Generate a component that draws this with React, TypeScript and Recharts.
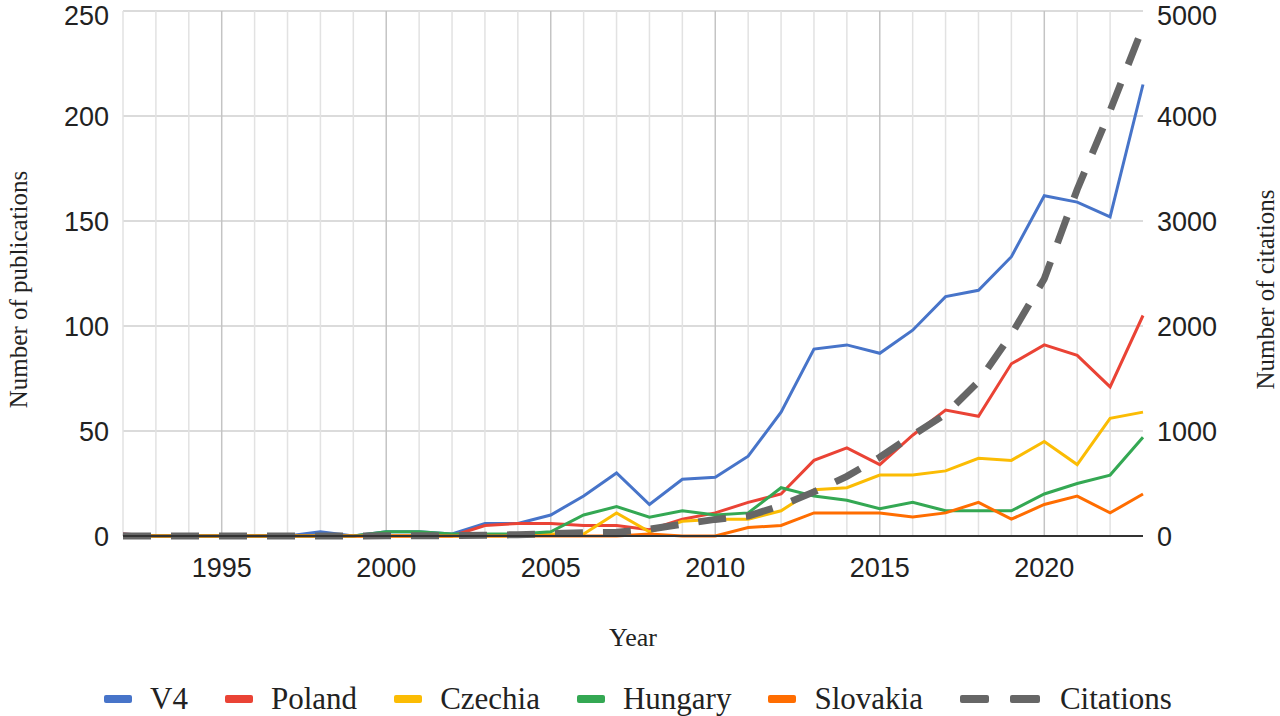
// Publications and citations per year, V4 countries
import { LineChart, Line, XAxis, YAxis, CartesianGrid, ReferenceLine } from 'recharts';

const years = [
  1992, 1993, 1994, 1995, 1996, 1997, 1998, 1999, 2000, 2001, 2002, 2003, 2004, 2005, 2006, 2007,
  2008, 2009, 2010, 2011, 2012, 2013, 2014, 2015, 2016, 2017, 2018, 2019, 2020, 2021, 2022, 2023,
];
const v4 = [1, 0, 0, 0, 0, 0, 2, 0, 2, 2, 1, 6, 6, 10, 19, 30, 15, 27, 28, 38, 59, 89, 91, 87, 98, 114, 117, 133, 162, 159, 152, 215];
const poland = [1, 0, 0, 0, 0, 0, 0, 0, 0, 0, 0, 5, 6, 6, 5, 5, 3, 8, 11, 16, 20, 36, 42, 34, 48, 60, 57, 82, 91, 86, 71, 105];
const czechia = [0, 0, 0, 0, 0, 0, 0, 0, 0, 0, 0, 0, 0, 1, 1, 11, 2, 7, 8, 8, 12, 22, 23, 29, 29, 31, 37, 36, 45, 34, 56, 59];
const hungary = [0, 0, 0, 0, 0, 0, 0, 0, 2, 2, 1, 1, 1, 2, 10, 14, 9, 12, 10, 11, 23, 19, 17, 13, 16, 12, 12, 12, 20, 25, 29, 47];
const slovakia = [0, 0, 0, 0, 0, 0, 0, 0, 0, 0, 0, 0, 0, 0, 0, 0, 1, 0, 0, 4, 5, 11, 11, 11, 9, 11, 16, 8, 15, 19, 11, 20];
const citations = [0, 0, 0, 0, 0, 0, 0, 0, 2, 3, 3, 8, 12, 22, 30, 35, 65, 112, 158, 190, 290, 420, 568, 750, 960, 1160, 1470, 1920, 2450, 3300, 4050, 4850];

const yearTicks = [1995, 2000, 2005, 2010, 2015, 2020];
const pubTicks = [0, 50, 100, 150, 200, 250];
const citTicks = [0, 1000, 2000, 3000, 4000, 5000];

const series = [
  { key: 'V4', values: v4, color: '#4774C9' },
  { key: 'Poland', values: poland, color: '#EA4335' },
  { key: 'Czechia', values: czechia, color: '#FBBC04' },
  { key: 'Hungary', values: hungary, color: '#34A853' },
  { key: 'Slovakia', values: slovakia, color: '#FF6D01' },
];
const citationColor = '#666666';

const chartData = years.map((year, i) => {
  const row: Record<string, number> = { year, Citations: citations[i] };
  series.forEach((s) => {
    row[s.key] = s.values[i];
  });
  return row;
});

const tickStyle = { fontFamily: '"Liberation Sans", Arial, sans-serif', fontSize: 27, fill: '#222' };
const serif = '"Liberation Serif", "Times New Roman", serif';

const VerticalTitle = ({ viewBox, text, dx }: any) => {
  const cx = viewBox.x + dx;
  const cy = viewBox.y + viewBox.height / 2 + 16;
  return (
    <text
      transform={`translate(${cx},${cy}) rotate(-90)`}
      textAnchor="middle"
      dominantBaseline="central"
      fontFamily={serif}
      fontSize={25}
      fill="#222"
    >
      {text}
    </text>
  );
};

const LegendRow = () => (
  <div
    style={{
      position: 'absolute',
      left: 0,
      top: 681,
      width: 1276,
      height: 36,
      display: 'flex',
      justifyContent: 'center',
      alignItems: 'center',
      fontFamily: serif,
      fontSize: 31,
      color: '#222',
    }}
  >
    {series.map((s) => (
      <div key={s.key} style={{ display: 'flex', alignItems: 'center', marginRight: 37 }}>
        <svg width={28} height={8} style={{ marginRight: 18 }}>
          <rect width={28} height={8} rx={2} fill={s.color} />
        </svg>
        <span>{s.key}</span>
      </div>
    ))}
    <div style={{ display: 'flex', alignItems: 'center' }}>
      <svg width={80} height={8} style={{ marginRight: 20 }}>
        <rect width={29} height={8} rx={2} fill={citationColor} />
        <rect x={50} width={30} height={8} rx={2} fill={citationColor} />
      </svg>
      <span>Citations</span>
    </div>
  </div>
);

const App = () => {
  return (
    <div style={{ position: 'absolute', left: 0, top: 0, width: 1280, height: 716, background: '#fff' }}>
      <LineChart width={1280} height={716} data={chartData} margin={{ top: 11, right: 0, bottom: 70, left: 0 }}>
        <CartesianGrid yAxisId="pub" vertical={false} stroke="#cfcfcf" strokeWidth={1.5} />
        {years
          .filter((yr) => yr < 2023)
          .map((yr) => (
            <ReferenceLine
              key={yr}
              x={yr}
              yAxisId="pub"
              stroke={yr % 5 === 0 ? '#c4c4c4' : '#e2e2e2'}
              strokeWidth={1.5}
            />
          ))}
        <XAxis
          dataKey="year"
          type="number"
          domain={[1992, 2023]}
          ticks={yearTicks}
          height={110}
          tickLine={false}
          tickSize={0}
          tickMargin={22}
          axisLine={{ stroke: '#333', strokeWidth: 2 }}
          tick={tickStyle}
          label={{ value: 'Year', position: 'insideBottom', offset: 0, fontFamily: serif, fontSize: 26, fill: '#222' }}
        />
        <YAxis
          yAxisId="pub"
          width={123}
          domain={[0, 250]}
          ticks={pubTicks}
          axisLine={false}
          tickLine={false}
          tickSize={0}
          tickMargin={14}
          tick={tickStyle}
          label={(props: any) => <VerticalTitle {...props} text="Number of publications" dx={18} />}
        />
        <YAxis
          yAxisId="cit"
          orientation="right"
          width={137}
          domain={[0, 5000]}
          ticks={citTicks}
          axisLine={false}
          tickLine={false}
          tickSize={0}
          tickMargin={14}
          tick={{ ...tickStyle, textAnchor: 'start' }}
          label={(props: any) => <VerticalTitle {...props} text="Number of citations" dx={122} />}
        />
        {series.map((s) => (
          <Line
            key={s.key}
            yAxisId="pub"
            type="linear"
            dataKey={s.key}
            stroke={s.color}
            strokeWidth={3}
            dot={false}
            activeDot={false}
            isAnimationActive={false}
          />
        ))}
        <Line
          yAxisId="cit"
          type="linear"
          dataKey="Citations"
          stroke={citationColor}
          strokeWidth={7}
          strokeDasharray="28 20"
          dot={false}
          activeDot={false}
          isAnimationActive={false}
        />
      </LineChart>
      <LegendRow />
    </div>
  );
};

export default App;
